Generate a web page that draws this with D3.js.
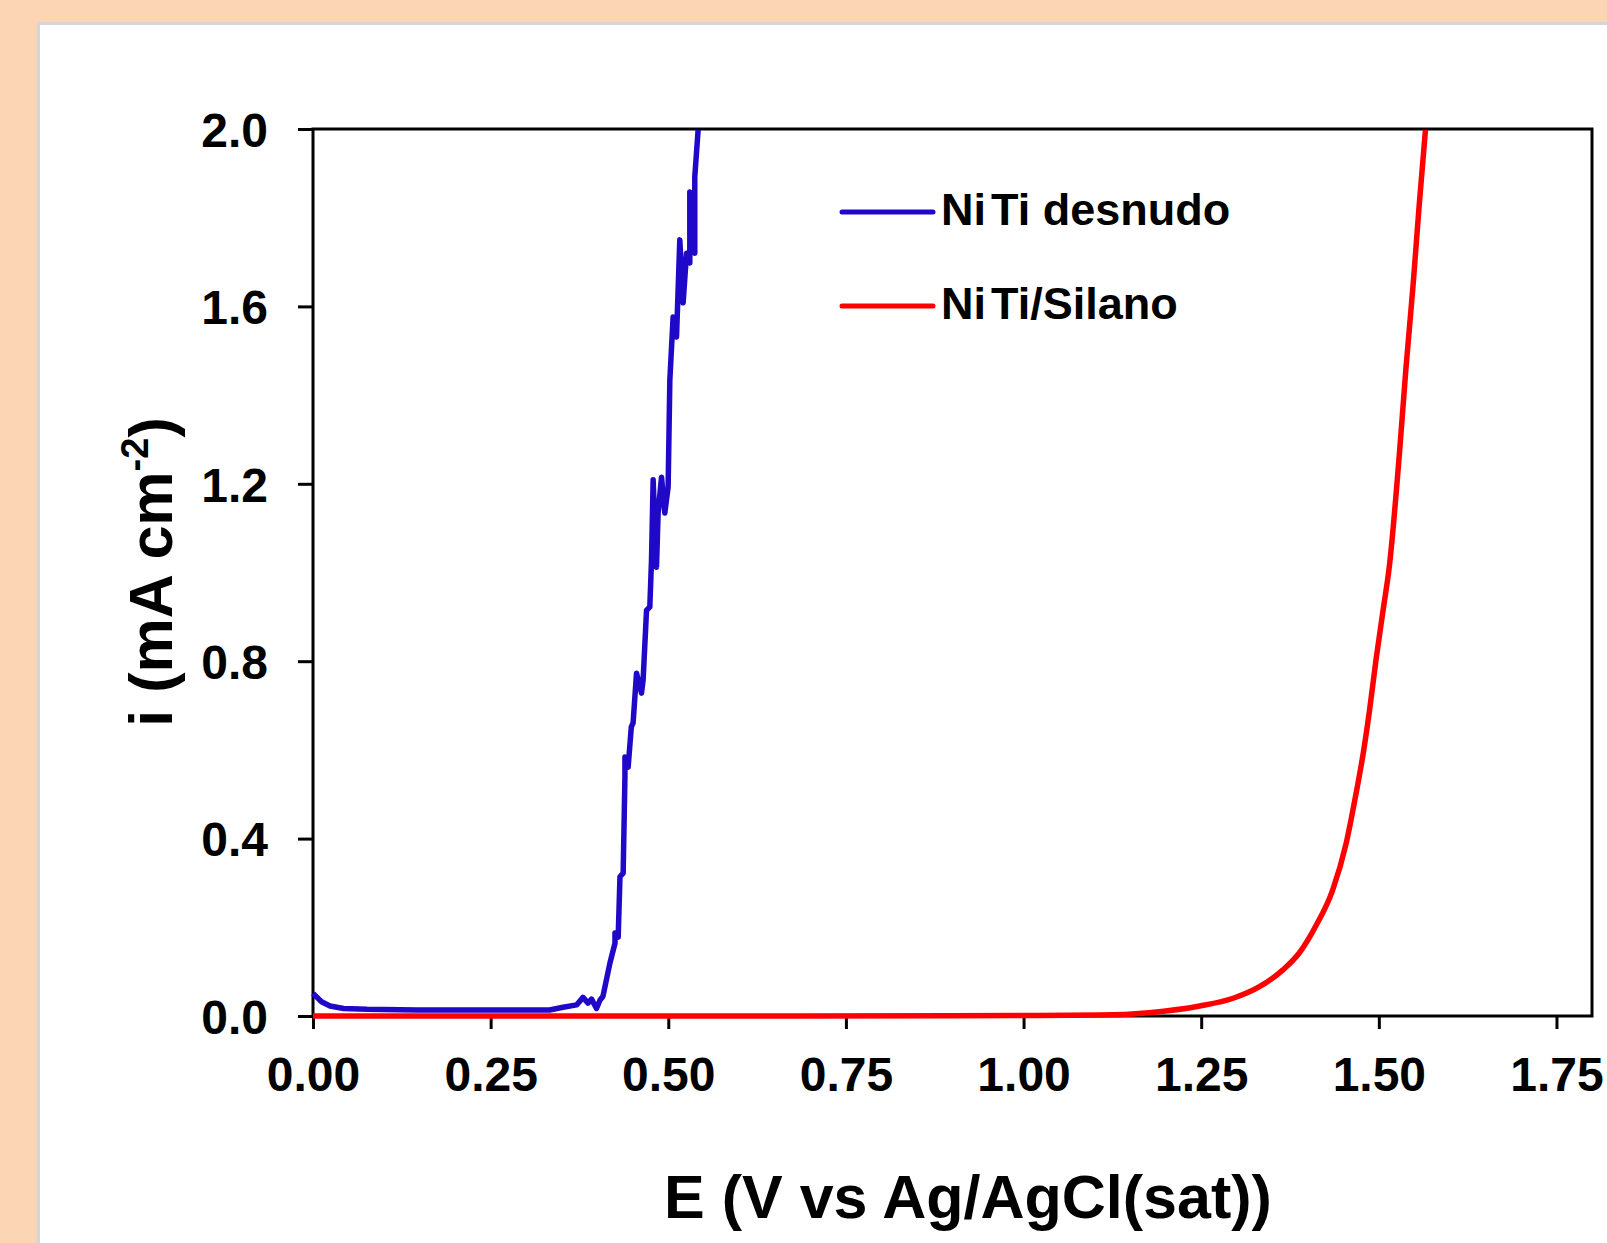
<!DOCTYPE html>
<html>
    <head>
        <meta charset="utf-8" />
        <title>NiTi polarizacion</title>
        <script src="https://d3js.org/d3.v7.min.js"></script>
        <style>
            body { margin: 0; background: #fcd5b4; }
            text { font-family: "Liberation Sans", Arial, sans-serif; font-weight: bold; fill: #000; }
        </style>
    </head>
    <body>
        <div id="chart"></div>

    <script>

        // NiTi desnudo (blue)
        const bareE = [0.000, 0.012, 0.024, 0.043, 0.076, 0.146, 0.240, 0.333, 0.352, 0.371, 0.380, 0.387,
                       0.392, 0.399, 0.404, 0.408, 0.418, 0.425, 0.425, 0.4295, 0.432, 0.4365, 0.439, 0.439,
                       0.4435, 0.448, 0.4505, 0.4553, 0.4623, 0.4646, 0.4694, 0.474, 0.4764, 0.4787, 0.4834,
                       0.4857, 0.4905, 0.4951, 0.4998, 0.5022, 0.5068, 0.5116, 0.5162, 0.5209, 0.5257, 0.5303,
                       0.5303, 0.5373, 0.5373, 0.542]
        const bareI = [0.051, 0.032, 0.0225, 0.017, 0.015, 0.0135, 0.0135, 0.0135, 0.0196, 0.025, 0.042, 0.029,
                       0.038, 0.017, 0.036, 0.044, 0.12, 0.164, 0.187, 0.178, 0.314, 0.322, 0.539, 0.584,
                       0.561, 0.652, 0.661, 0.773, 0.728, 0.758, 0.915, 0.922, 1.028, 1.209, 1.012,
                       1.134, 1.215, 1.134, 1.193, 1.434, 1.576, 1.531, 1.750, 1.608, 1.720, 1.698,
                       1.858, 1.720, 1.892, 1.998]

        // NiTi/Silano (red)
        const silE = [0.000, 0.500, 0.900, 1.000, 1.107, 1.177, 1.248, 1.295, 1.332, 1.365, 1.388, 1.412,
                      1.435, 1.454, 1.468, 1.478, 1.487, 1.496, 1.506, 1.515, 1.529, 1.538, 1.548, 1.557, 1.5656]
        const silI = [0.000, 0.000, 0.0005, 0.001, 0.002, 0.0075, 0.0225, 0.040, 0.066, 0.104, 0.142, 0.205,
                      0.284, 0.389, 0.502, 0.592, 0.690, 0.803, 0.915, 1.017, 1.269, 1.457, 1.644, 1.832, 1.998]

        const xTicks = [0, 0.25, 0.5, 0.75, 1.0, 1.25, 1.5, 1.75]
        const yTicks = [0, 0.4, 0.8, 1.2, 1.6, 2.0]
        const seriesNames = ["NiTi desnudo", "NiTi/Silano"]
        const seriesColors = ["#2008c8", "#ff0000"]

        const W = 1607, H = 1243
        const margin = {top: 129, right: 15, bottom: 227, left: 313},
            width = W - margin.left - margin.right,
            height = H - margin.top - margin.bottom;

        const root = d3.select("#chart")
                        .append("svg")
                            .attr("width", W)
                            .attr("height", H)

        // white card on peach background
        root.append("rect")
            .attr("x", 38.5).attr("y", 23.5)
            .attr("width", W).attr("height", H)
            .attr("fill", "#fff")
            .attr("stroke", "#d6d6d6")
            .attr("stroke-width", 3)

        const svg = root.append("g")
                        .attr("transform", `translate(${margin.left},${margin.top})`);

        const x = d3.scaleLinear().domain([0, 1.8]).range([0, width])
        const y = d3.scaleLinear().domain([0, 2.0]).range([height, 0])

        // x axis
        const xAxis = svg.append("g")
            .attr("transform", `translate(0, ${height})`)
            .call(d3.axisBottom(x).tickValues(xTicks).tickSize(13).tickPadding(0).tickFormat(d3.format(".2f")))
        xAxis.select(".domain").remove()
        xAxis.selectAll(".tick line").attr("stroke", "#000").attr("stroke-width", 3)
        xAxis.selectAll(".tick text")
            .attr("y", 75).attr("dy", null)
            .style("font-size", "48px")

        // y axis
        const yAxis = svg.append("g")
            .call(d3.axisLeft(y).tickValues(yTicks).tickSize(15).tickPadding(30).tickFormat(d3.format(".1f")))
        yAxis.select(".domain").remove()
        yAxis.selectAll(".tick line").attr("stroke", "#000").attr("stroke-width", 3)
        yAxis.selectAll(".tick text")
            .attr("dy", "0.36em")
            .style("font-size", "48px")

        // frame
        svg.append("rect")
            .attr("width", width).attr("height", height)
            .attr("fill", "none")
            .attr("stroke", "#000")
            .attr("stroke-width", 3)

        const line = d3.line()
            .x(d => x(d[0]))
            .y(d => y(d[1]))

        svg.append("path")
            .datum(bareE.map((e, k) => [e, bareI[k]]))
            .attr("d", line)
            .attr("fill", "none")
            .attr("stroke", seriesColors[0])
            .attr("stroke-width", 5.5)
            .attr("stroke-linejoin", "round")

        svg.append("path")
            .datum(silE.map((e, k) => [e, silI[k]]))
            .attr("d", line.curve(d3.curveMonotoneX))
            .attr("fill", "none")
            .attr("stroke", seriesColors[1])
            .attr("stroke-width", 5.5)
            .attr("stroke-linejoin", "round")

        // legend
        const legend = root.append("g")
        seriesNames.forEach(function(name, k){
            const ly = 212 + k * 94
            legend.append("line")
                .attr("x1", 842).attr("x2", 933)
                .attr("y1", ly).attr("y2", ly)
                .attr("stroke", seriesColors[k])
                .attr("stroke-width", 5)
                .attr("stroke-linecap", "round")
            const t = legend.append("text")
                .attr("x", 941).attr("y", ly + 13)
                .style("font-size", "45px")
            t.append("tspan").text(name.slice(0, 2))
            t.append("tspan").attr("dx", 5).text(name.slice(2))
        })

        // axis titles
        root.append("text")
            .attr("x", 968).attr("y", 1218)
            .attr("text-anchor", "middle")
            .style("font-size", "61px")
            .text("E (V vs Ag/AgCl(sat))")

        const yt = root.append("text")
            .attr("transform", "translate(172,572) rotate(-90)")
            .attr("text-anchor", "middle")
            .style("font-size", "61px")
        yt.append("tspan").text("i (mA cm")
        yt.append("tspan").attr("dy", -24).style("font-size", "38px").text("-2")
        yt.append("tspan").attr("dy", 24).text(")")

    </script>
    </body>
</html>
